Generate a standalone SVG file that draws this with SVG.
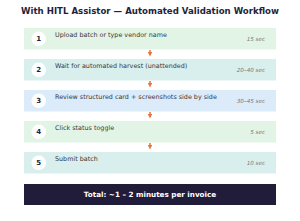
<svg xmlns="http://www.w3.org/2000/svg" width="300" height="221" viewBox="0 0 300 221">
<defs>
<marker id="ah" markerWidth="4.5" markerHeight="4.5" refX="2" refY="2.25" orient="auto" markerUnits="userSpaceOnUse">
<path d="M0,0 L4.5,2.25 L0,4.5 z" fill="#e8743b"/>
</marker>
</defs>
<style>
text{font-family:"DejaVu Sans","Liberation Sans",sans-serif}
.title{font-size:8.6px;font-weight:bold;fill:#231f3a}
.num{font-size:7px;font-weight:bold;fill:#231f3a}
.lbl{font-size:6.4px;fill:#383838}
.t{font-size:5.6px;font-style:italic;fill:#7a7a7a}
.circ{fill:#fff}
.conn{stroke:#e8743b;stroke-width:1.5;fill:none}
.tot{font-size:7.2px;font-weight:bold;fill:#fff}
</style>
<rect width="300" height="221" fill="#fff"/>
<text class="title" x="150" y="14" text-anchor="middle">With HITL Assistor — Automated Validation Workflow</text>
<g id="step1">
<rect x="24" y="28" width="252" height="21.5" fill="#e2f4e6"/>
<circle class="circ" cx="38.7" cy="38.8" r="7.3"/>
<text class="num" x="38.7" y="41.3" text-anchor="middle">1</text>
<text class="lbl" x="55" y="37">Upload batch or type vendor name</text>
<text class="t" x="265" y="40.5" text-anchor="end">15 sec</text>
</g>
<g id="step2">
<rect x="24" y="59" width="252" height="21.5" fill="#d9efee"/>
<circle class="circ" cx="38.7" cy="69.8" r="7.3"/>
<text class="num" x="38.7" y="72.3" text-anchor="middle">2</text>
<text class="lbl" x="55" y="68">Wait for automated harvest (unattended)</text>
<text class="t" x="265" y="71.5" text-anchor="end">20–40 sec</text>
</g>
<g id="step3">
<rect x="24" y="90" width="252" height="21.5" fill="#dcebfa"/>
<circle class="circ" cx="38.7" cy="100.8" r="7.3"/>
<text class="num" x="38.7" y="103.3" text-anchor="middle">3</text>
<text class="lbl" x="55" y="99">Review structured card + screenshots side by side</text>
<text class="t" x="265" y="102.5" text-anchor="end">30–45 sec</text>
</g>
<g id="step4">
<rect x="24" y="121" width="252" height="21.5" fill="#e2f4e6"/>
<circle class="circ" cx="38.7" cy="131.8" r="7.3"/>
<text class="num" x="38.7" y="134.3" text-anchor="middle">4</text>
<text class="lbl" x="55" y="130">Click status toggle</text>
<text class="t" x="265" y="133.5" text-anchor="end">5 sec</text>
</g>
<g id="step5">
<rect x="24" y="152" width="252" height="21.5" fill="#d9efee"/>
<circle class="circ" cx="38.7" cy="162.8" r="7.3"/>
<text class="num" x="38.7" y="165.3" text-anchor="middle">5</text>
<text class="lbl" x="55" y="161">Submit batch</text>
<text class="t" x="265" y="164.5" text-anchor="end">10 sec</text>
</g>
<g id="total">
<rect x="24" y="184" width="252" height="21" fill="#221c3b"/>
<text class="tot" x="150" y="197" text-anchor="middle">Total: ~1 – 2 minutes per invoice</text>
</g>
<g id="connectors">
<line class="conn" x1="150" y1="50" x2="150" y2="54" marker-end="url(#ah)"/>
<line class="conn" x1="150" y1="81" x2="150" y2="85" marker-end="url(#ah)"/>
<line class="conn" x1="150" y1="112" x2="150" y2="116" marker-end="url(#ah)"/>
<line class="conn" x1="150" y1="143" x2="150" y2="147" marker-end="url(#ah)"/>
</g>
</svg>
